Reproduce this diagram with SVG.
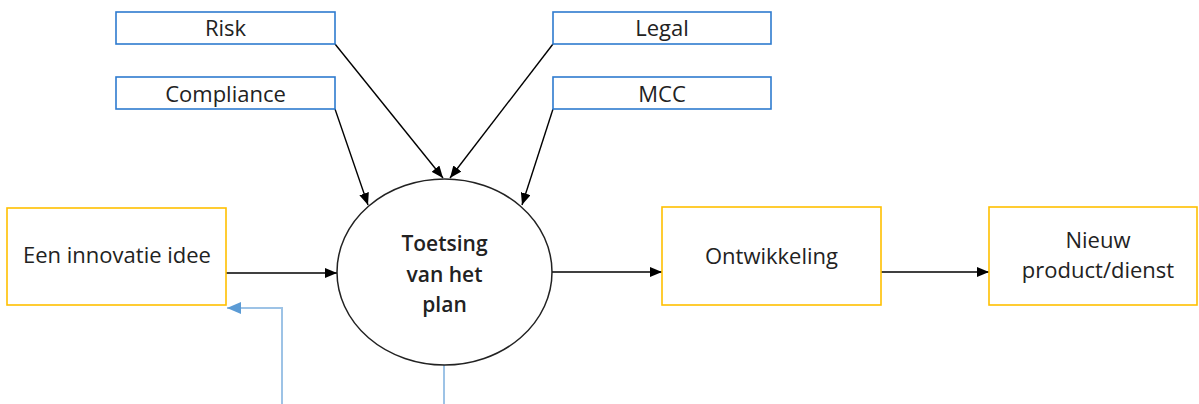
<svg xmlns="http://www.w3.org/2000/svg" width="1199" height="404" viewBox="0 0 1199 404">
<defs>
<style>
.bb{fill:#fff;stroke:#2E7BCF;stroke-width:1.6}
.yb{fill:#fff;stroke:#FFC000;stroke-width:1.6}
.t{font-family:"Open Sans","Liberation Sans",sans-serif;font-size:22px;fill:#222;text-anchor:middle}
.tb{font-family:"Open Sans","Liberation Sans",sans-serif;font-size:21px;font-weight:600;fill:#222;text-anchor:middle}
.c{fill:none;stroke:#000;stroke-width:1.4}
.cb{fill:none;stroke:#9DC3E6;stroke-width:2}
</style>
<marker id="ah" markerUnits="userSpaceOnUse" markerWidth="12" markerHeight="10" refX="12" refY="5" orient="auto">
<path d="M0,0 L12,5 L0,10 z" fill="#000"/>
</marker>
<marker id="ahb" markerUnits="userSpaceOnUse" markerWidth="14" markerHeight="12" refX="14" refY="6" orient="auto">
<path d="M0,0 L14,6 L0,12 z" fill="#5B9BD5"/>
</marker>
</defs>
<g id="connectors">
<line class="c" x1="335" y1="44" x2="443" y2="178" marker-end="url(#ah)"/>
<line class="c" x1="553" y1="44" x2="450" y2="178" marker-end="url(#ah)"/>
<line class="c" x1="335" y1="109" x2="368" y2="205" marker-end="url(#ah)"/>
<line class="c" x1="553" y1="109" x2="522" y2="205" marker-end="url(#ah)"/>
<line class="c" x1="226" y1="273" x2="337" y2="273" marker-end="url(#ah)"/>
<line class="c" x1="552" y1="272" x2="662" y2="272" marker-end="url(#ah)"/>
<line class="c" x1="881" y1="272" x2="989" y2="272" marker-end="url(#ah)"/>
<polyline class="cb" points="282,404 282,308 227,308" marker-end="url(#ahb)"/>
<line class="cb" x1="444" y1="365" x2="444" y2="404"/>
</g>
<g id="risk"><rect class="bb" x="116" y="12" width="219" height="32"/><text class="t" x="225.5" y="36">Risk</text></g>
<g id="compliance"><rect class="bb" x="116" y="77" width="219" height="32"/><text class="t" x="225.5" y="101.5">Compliance</text></g>
<g id="legal"><rect class="bb" x="553" y="12" width="218" height="32"/><text class="t" x="662" y="36">Legal</text></g>
<g id="mcc"><rect class="bb" x="553" y="77" width="218" height="32"/><text class="t" x="662" y="101.5">MCC</text></g>
<g id="idee"><rect class="yb" x="7" y="208" width="219" height="97"/><text class="t" x="117" y="263">Een innovatie idee</text></g>
<g id="toetsing"><ellipse cx="444.5" cy="272" rx="107.5" ry="93" fill="#fff" stroke="#222" stroke-width="1.5"/>
<text class="tb" x="444.5" y="251">Toetsing</text><text class="tb" x="444.5" y="282">van het</text><text class="tb" x="444.5" y="312">plan</text></g>
<g id="ontwikkeling"><rect class="yb" x="662" y="207" width="219" height="98"/><text class="t" x="771.5" y="264">Ontwikkeling</text></g>
<g id="nieuw"><rect class="yb" x="989" y="207" width="208" height="98"/><text class="t" x="1098" y="248">Nieuw</text><text class="t" x="1098" y="278">product/dienst</text></g>
</svg>
